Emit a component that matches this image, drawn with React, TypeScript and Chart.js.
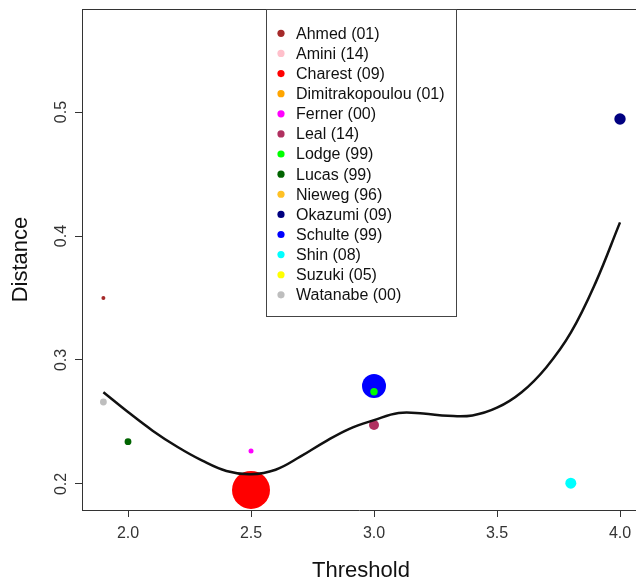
import React, { useEffect, useRef } from 'react';
import { Chart, registerables } from 'chart.js';
Chart.register(...registerables);

const studies = [
  'Ahmed (01)', 'Amini (14)', 'Charest (09)', 'Dimitrakopoulou (01)', 'Ferner (00)',
  'Leal (14)', 'Lodge (99)', 'Lucas (99)', 'Nieweg (96)', 'Okazumi (09)',
  'Schulte (99)', 'Shin (08)', 'Suzuki (05)', 'Watanabe (00)',
];
const studyColors = [
  '#A52A2A', '#FFC0CB', '#FF0000', '#FFA500', '#FF00FF',
  '#B03060', '#00FF00', '#006400', '#FFC125', '#000080',
  '#0000FF', '#00FFFF', '#FFFF00', '#BEBEBE',
];
const thresholds: (number | null)[] = [1.9, null, 2.5, null, 2.5, 3.0, 3.0, 2.0, null, 4.0, 3.0, 3.8, null, 1.9];
const distances: (number | null)[] = [0.350, null, 0.1952, null, 0.2266, 0.2476, 0.2744, 0.2341, null, 0.4944, 0.279, 0.2006, null, 0.2661];
const weights = [2, 0, 19, 0, 2.5, 5, 3.7, 3.4, 0, 5.7, 12, 5.5, 0, 3.4];

const curveX = [1.9, 2.0, 2.1, 2.2, 2.3, 2.4, 2.5, 2.6, 2.7, 2.8, 2.9, 3.0, 3.1, 3.2, 3.3, 3.4, 3.5, 3.6, 3.7, 3.8, 3.9, 4.0];
const curveY = [0.274, 0.258, 0.243, 0.230, 0.219, 0.2105, 0.2079, 0.2115, 0.222, 0.234, 0.2445, 0.2515, 0.2572, 0.2568, 0.2550, 0.2553, 0.2615, 0.274, 0.294, 0.322, 0.362, 0.411];

const xTicks = [2.0, 2.5, 3.0, 3.5, 4.0];
const yTicks = [0.2, 0.3, 0.4, 0.5];
const xTitle = 'Threshold';
const yTitle = 'Distance';

const FONT = '"Liberation Sans", Arial, sans-serif';

const zeroPad = (s: any) => {
  s.paddingLeft = 0;
  s.paddingRight = 0;
  s.paddingTop = 0;
  s.paddingBottom = 0;
};

export default function App() {
  const ref = useRef<HTMLCanvasElement>(null);
  useEffect(() => {
    document.body.style.margin = '0';
    const canvas = ref.current!;

    const decor = {
      id: 'decor',
      afterDatasetsDraw(chart: any) {
        const { ctx, chartArea, scales } = chart;
        const ys = scales.y;
        ctx.save();
        // top border
        ctx.strokeStyle = '#333';
        ctx.lineWidth = 1;
        ctx.beginPath();
        ctx.moveTo(chartArea.left, chartArea.top + 0.5);
        ctx.lineTo(chartArea.right, chartArea.top + 0.5);
        ctx.stroke();

        // y tick labels (rotated)
        ctx.fillStyle = '#333';
        ctx.font = `16px ${FONT}`;
        ctx.textAlign = 'center';
        ctx.textBaseline = 'middle';
        yTicks.forEach((v) => {
          const py = ys.getPixelForValue(v);
          ctx.save();
          ctx.translate(62, py);
          ctx.rotate(-Math.PI / 2);
          ctx.fillText(v.toFixed(1), 0, 0);
          ctx.restore();
        });

        // axis titles
        ctx.fillStyle = '#111';
        ctx.font = `22px ${FONT}`;
        ctx.textAlign = 'center';
        ctx.textBaseline = 'alphabetic';
        ctx.fillText(xTitle, (chartArea.left + 640) / 2, 577);
        ctx.save();
        ctx.translate(27, (chartArea.top + chartArea.bottom) / 2);
        ctx.rotate(-Math.PI / 2);
        ctx.fillText(yTitle, 0, 0);
        ctx.restore();

        // legend
        const lx = 266.5, ly = chartArea.top + 0.5, lw = 190, lh = 307;
        ctx.fillStyle = '#fff';
        ctx.fillRect(lx, ly, lw, lh);
        ctx.strokeStyle = '#444';
        ctx.strokeRect(lx, ly, lw, lh);
        ctx.font = `16px ${FONT}`;
        ctx.textAlign = 'left';
        ctx.textBaseline = 'middle';
        studies.forEach((s, i) => {
          const iy = 33.3 + i * 20.12;
          ctx.fillStyle = studyColors[i];
          ctx.beginPath();
          ctx.arc(281, iy, 3.6, 0, Math.PI * 2);
          ctx.fill();
          ctx.fillStyle = '#111';
          ctx.fillText(s, 296, iy + 1);
        });
        ctx.restore();
      },
    };

    const pointSets = studies.map((s, i) => ({
      type: 'scatter' as const,
      label: s,
      data: thresholds[i] !== null && distances[i] !== null ? [{ x: thresholds[i] as number, y: distances[i] as number }] : [],
      backgroundColor: studyColors[i],
      borderWidth: 0,
      pointRadius: weights[i],
      pointHoverRadius: weights[i],
    }));

    const chart = new Chart(canvas, {
      type: 'scatter',
      data: {
        datasets: [
          {
            type: 'line' as const,
            label: 'fit',
            data: curveX.map((x, i) => ({ x, y: curveY[i] })),
            borderColor: '#111',
            borderWidth: 2.5,
            pointRadius: 0,
            tension: 0.4,
            fill: false,
          } as any,
          ...pointSets,
        ],
      },
      options: {
        responsive: false,
        animation: false,
        events: [],
        layout: { autoPadding: false, padding: { top: 9, left: 0, right: 0, bottom: 0 } },
        plugins: { legend: { display: false }, tooltip: { enabled: false } },
        scales: {
          x: {
            type: 'linear',
            min: 1.813,
            max: 4.065,
            afterBuildTicks: (s: any) => { s.ticks = xTicks.map((v) => ({ value: v })); },
            afterFit: (s: any) => { s.height = 69; zeroPad(s); },
            grid: { drawOnChartArea: false, drawTicks: true, tickLength: 7, color: '#333' },
            border: { display: true, color: '#333', width: 1 },
            ticks: {
              font: { family: FONT, size: 16 },
              color: '#333',
              padding: 7,
              maxRotation: 0,
              autoSkip: false,
              callback: (v: any) => Number(v).toFixed(1),
            },
          },
          y: {
            type: 'linear',
            min: 0.179,
            max: 0.5831,
            afterBuildTicks: (s: any) => { s.ticks = yTicks.map((v) => ({ value: v })); },
            afterFit: (s: any) => { s.width = 82; zeroPad(s); },
            grid: { drawOnChartArea: false, drawTicks: true, tickLength: 7, color: '#333' },
            border: { display: true, color: '#333', width: 1 },
            ticks: { display: false },
          },
        },
      },
      plugins: [decor],
    });
    return () => chart.destroy();
  }, []);
  return (
    <div style={{ width: 636, height: 579 }}>
      <canvas ref={ref} width={636} height={579} style={{ display: 'block' }} />
    </div>
  );
}
